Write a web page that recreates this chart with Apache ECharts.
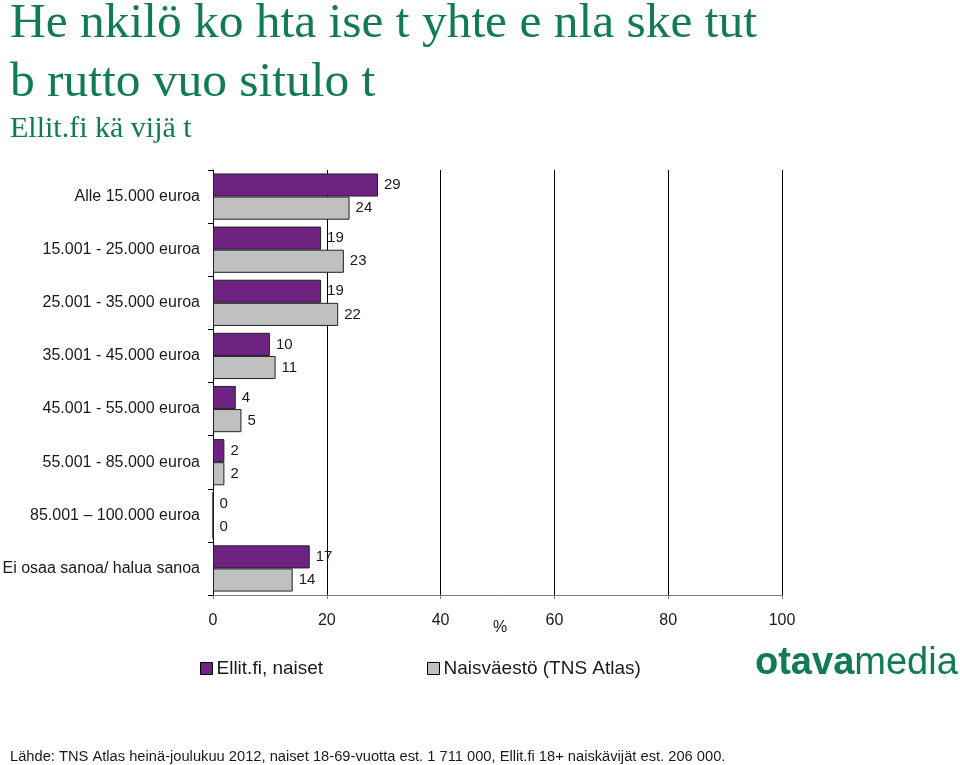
<!DOCTYPE html>
<html>
<head>
<meta charset="utf-8">
<script src="https://cdn.jsdelivr.net/npm/echarts@6/dist/echarts.min.js"></script>
<style>html,body{margin:0;padding:0;background:#fff;}#c{width:960px;height:765px;}</style>
</head>
<body>
<div id="c"></div>
<script>
const categories = ['Alle 15.000 euroa', '15.001 - 25.000 euroa', '25.001 - 35.000 euroa', '35.001 - 45.000 euroa', '45.001 - 55.000 euroa', '55.001 - 85.000 euroa', '85.001 – 100.000 euroa', 'Ei osaa sanoa/ halua sanoa'];
const ellitNaiset = [29, 19, 19, 10, 4, 2, 0, 17];
const naisvaesto = [24, 23, 22, 11, 5, 2, 0, 14];
const xTicks = [0, 20, 40, 60, 80, 100];
const seriesNames = ['Ellit.fi, naiset', 'Naisväestö (TNS Atlas)'];
const titleLines = ['He nkilö ko hta ise t yhte e nla ske tut', 'b rutto vuo situlo t'];
const subtitle = 'Ellit.fi kä vijä t';
const footer = 'Lähde: TNS Atlas heinä-joulukuu 2012, naiset 18-69-vuotta est. 1 711 000, Ellit.fi 18+ naiskävijät est. 206 000.';

const green = '#117A56';
const sans = 'Liberation Sans, Arial, sans-serif';
const chart = echarts.init(document.getElementById('c'), null, {renderer: 'canvas'});
const labelStyle = {show: true, position: 'right', distance: 6, color: '#1a1a1a', fontSize: 15, fontFamily: sans};
const legendCommon = {top: 659, padding: 0, itemWidth: 12, itemHeight: 12, itemGap: 10, icon: 'rect',
  itemStyle: {borderColor: '#000', borderWidth: 1},
  textStyle: {fontSize: 19, color: '#1a1a1a', fontFamily: sans, padding: [0, 0, 0, -1]}};
chart.setOption({
  animation: false,
  backgroundColor: '#fff',
  grid: {left: 213, right: 178, top: 170, bottom: 170, containLabel: false, outerBoundsMode: 'none'},
  legend: [
    Object.assign({data: [seriesNames[0]], left: 200}, legendCommon),
    Object.assign({data: [seriesNames[1]], left: 427}, legendCommon)
  ],
  xAxis: {
    type: 'value', min: 0, max: 100, interval: 20,
    name: '%', nameLocation: 'middle', nameGap: 25, nameMoveOverlap: false,
    nameTextStyle: {fontSize: 16, color: '#1a1a1a', padding: [0, 0, 0, 5], fontFamily: sans},
    axisLine: {show: true, lineStyle: {color: '#808080', width: 1}},
    axisTick: {show: true, length: 4, lineStyle: {color: '#808080'}},
    axisLabel: {margin: 18, fontSize: 16, color: '#1a1a1a', fontFamily: sans,
      formatter: v => xTicks.includes(v) ? String(v) : ''},
    splitLine: {show: true, lineStyle: {color: '#000', width: 1}}
  },
  yAxis: {
    type: 'category', data: categories, inverse: true,
    axisLine: {show: true, lineStyle: {color: '#000', width: 1}},
    axisTick: {show: true, length: 5, inside: false, lineStyle: {color: '#000'}},
    axisLabel: {margin: 13, fontSize: 16, color: '#1a1a1a', fontFamily: sans},
    splitLine: {show: false}
  },
  series: [
    {name: seriesNames[0], type: 'bar', data: ellitNaiset, barGap: '0%', barCategoryGap: '13%',
     itemStyle: {color: '#6E2382', borderColor: '#222', borderWidth: 1}, label: labelStyle},
    {name: seriesNames[1], type: 'bar', data: naisvaesto, barGap: '0%', barCategoryGap: '13%',
     itemStyle: {color: '#C0C0C0', borderColor: '#222', borderWidth: 1}, label: labelStyle}
  ],
  graphic: [
    {type: 'text', x: 10, y: 0, scaleX: 1.03, style: {text: titleLines[0], fill: green, font: '48px "Liberation Serif", serif', verticalAlign: 'top'}},
    {type: 'text', x: 10, y: 59, scaleX: 1.03, style: {text: titleLines[1], fill: green, font: '48px "Liberation Serif", serif', verticalAlign: 'top'}},
    {type: 'text', x: 10, y: 114, style: {text: subtitle, fill: green, font: '30px "Liberation Serif", serif', verticalAlign: 'top'}},
    {type: 'text', x: 755, y: 645, style: {
      text: '{b|otava}{l|media}', verticalAlign: 'top',
      rich: {
        b: {fill: green, fontSize: 38, fontWeight: 'bold', fontFamily: sans},
        l: {fill: green, fontSize: 38, fontWeight: 'normal', fontFamily: sans}
      }}},
    {type: 'text', x: 10, y: 749, style: {text: footer, fill: '#1a1a1a', font: '14.7px "Liberation Sans", Arial, sans-serif', verticalAlign: 'top'}}
  ]
});
</script>
</body>
</html>
